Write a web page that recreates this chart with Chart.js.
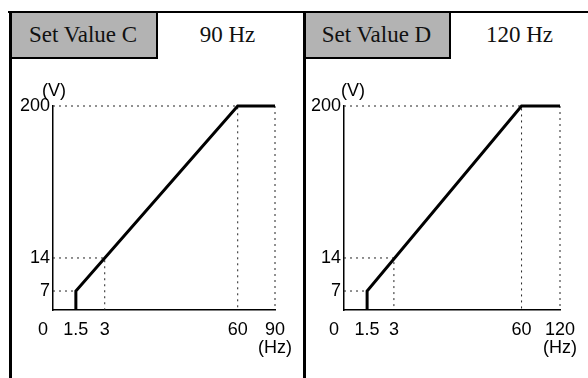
<!DOCTYPE html>
<html>
<head>
<meta charset="utf-8">
<script src="https://cdn.jsdelivr.net/npm/chart.js@4/dist/chart.umd.min.js"></script>
<style>
  body { margin: 0; background: #fff; }
  #page { position: relative; width: 588px; height: 378px; overflow: hidden; }
  .line { position: absolute; background: #000; }
  .box { position: absolute; box-sizing: border-box; background: #b3b3b3;
         border-right: 2px solid #000; border-bottom: 2px solid #000;
         font: 23px "Liberation Serif", "Times New Roman", serif; color: #111;
         display: flex; align-items: center; justify-content: center; }
  .hz { position: absolute; font: 23px "Liberation Serif", "Times New Roman", serif; color: #111;
        display: flex; align-items: center; justify-content: center; }
  canvas { position: absolute; }
</style>
</head>
<body>
<div id="page">
  <div class="box" id="boxC" style="left:10px; top:12px; width:148px; height:47px;"></div>
  <div class="hz" id="hzC" style="left:155px; top:12px; width:145px; height:45px;"></div>
  <div class="box" id="boxD" style="left:304px; top:12px; width:147px; height:47px;"></div>
  <div class="hz" id="hzD" style="left:451px; top:12px; width:137px; height:45px;"></div>
  <div class="line" style="left:8px; top:11px; width:580px; height:2px;"></div>
  <div class="line" style="left:9px; top:11px; width:3px; height:367px;"></div>
  <div class="line" style="left:303px; top:11px; width:3px; height:367px;"></div>
  <canvas id="chartC" width="291" height="319" style="left:12px; top:59px;"></canvas>
  <canvas id="chartD" width="282" height="319" style="left:306px; top:59px;"></canvas>
</div>
<script>
// header texts
const panelNames = ["Set Value C", "Set Value D"];
const maxFreqText = ["90 Hz", "120 Hz"];

// axis ticks
const freqTicksC = [0, 1.5, 3, 60, 90];
const freqTicksD = [0, 1.5, 3, 60, 120];
const voltTicks = [0, 7, 14, 200];

// V/f curve
const curveFreqC = [1.5, 1.5, 60, 90];
const curveFreqD = [1.5, 1.5, 60, 120];
const curveVolt = [0, 7, 200, 200];

// dotted guide corners
const guideFreq = [1.5, 3, 60];
const guideVolt = [7, 14, 200];

document.getElementById("boxC").textContent = panelNames[0];
document.getElementById("boxD").textContent = panelNames[1];
document.getElementById("hzC").textContent = maxFreqText[0];
document.getElementById("hzD").textContent = maxFreqText[1];

// schematic axis: ticks are placed at given fractions, piecewise linear between them
class SchematicScale extends Chart.LinearScale {
  buildTicks() {
    const stops = this.options.stops;
    this.min = stops[0];
    this.max = stops[stops.length - 1];
    return stops.map(v => ({ value: v }));
  }
  getPixelForValue(value) {
    const stops = this.options.stops;
    const fr = this.options.fracs;
    let f = 0;
    for (let i = 0; i < stops.length - 1; i++) {
      if (value >= stops[i] && value <= stops[i + 1]) {
        f = fr[i] + (value - stops[i]) / (stops[i + 1] - stops[i]) * (fr[i + 1] - fr[i]);
        break;
      }
    }
    if (value > stops[stops.length - 1]) f = 1;
    return this.getPixelForDecimal(f);
  }
}
SchematicScale.id = "schematic";
SchematicScale.defaults = {};
Chart.register(SchematicScale);

// "(V)" unit above the 200 tick
const unitLabel = {
  id: "unitLabel",
  afterDraw(chart, args, opts) {
    const y = chart.scales.y;
    const ctx = chart.ctx;
    ctx.save();
    ctx.font = "18px 'Liberation Sans', Arial, sans-serif";
    ctx.fillStyle = "#000";
    ctx.textAlign = "center";
    ctx.textBaseline = "middle";
    ctx.fillText(opts.text, y.right + opts.dx, y.getPixelForValue(voltTicks[voltTicks.length - 1]) - 15);
    ctx.restore();
  }
};

function buildChart(id, freqTicks, curveFreq, xFracs, yAxisWidth, padRight, unitDx) {
  const maxF = freqTicks[freqTicks.length - 1];
  const guides = [];
  guideFreq.forEach((f, i) => {
    guides.push({ x: 0, y: guideVolt[i] }, { x: f, y: guideVolt[i] }, { x: f, y: 0 }, { x: f, y: null });
  });
  guides.push({ x: maxF, y: voltTicks[voltTicks.length - 1] }, { x: maxF, y: 0 });

  const tickFont = { family: "'Liberation Sans', Arial, sans-serif", size: 18, lineHeight: 1.0 };

  return new Chart(document.getElementById(id).getContext("2d"), {
    type: "line",
    data: {
      datasets: [
        {
          data: curveFreq.map((f, i) => ({ x: f, y: curveVolt[i] })),
          borderColor: "#000",
          borderWidth: 3,
          pointRadius: 0,
          tension: 0,
          clip: false
        },
        {
          data: guides,
          borderColor: "#222",
          borderWidth: 1,
          borderDash: [2, 4],
          pointRadius: 0,
          spanGaps: false,
          clip: false
        }
      ]
    },
    options: {
      responsive: false,
      animation: false,
      layout: { padding: { top: 47, right: padRight, left: 0, bottom: 0 } },
      plugins: {
        legend: { display: false },
        tooltip: { enabled: false },
        unitLabel: { text: "(V)", dx: unitDx }
      },
      scales: {
        x: {
          type: "schematic",
          stops: freqTicks,
          fracs: xFracs,
          grid: { display: false, drawTicks: false },
          border: { display: true, color: "#000", width: 1.5 },
          ticks: {
            color: "#000",
            font: tickFont,
            padding: 11,
            maxRotation: 0,
            autoSkip: false,
            callback: function (value) {
              if (value === 0) return "0\u00a0\u00a0\u00a0\u00a0";
              if (value === maxF) return [String(value), "(Hz)"];
              return String(value);
            }
          },
          afterFit: function (scale) { scale.height = 68; }
        },
        y: {
          type: "schematic",
          stops: voltTicks,
          fracs: [0, 0.093, 0.255, 1],
          grid: { display: false, drawTicks: false },
          border: { display: true, color: "#000", width: 1.5 },
          ticks: {
            color: "#000",
            font: tickFont,
            padding: 3,
            autoSkip: false,
            callback: function (value) {
              return value === 0 ? "" : String(value);
            }
          },
          afterFit: function (scale) { scale.width = yAxisWidth; }
        }
      }
    },
    plugins: [unitLabel]
  });
}

buildChart("chartC", freqTicksC, curveFreqC, [0, 0.103, 0.233, 0.832, 1], 41, 18, 1);
buildChart("chartD", freqTicksD, curveFreqD, [0, 0.107, 0.231, 0.822, 1], 38, 19, 9);
</script>
</body>
</html>
